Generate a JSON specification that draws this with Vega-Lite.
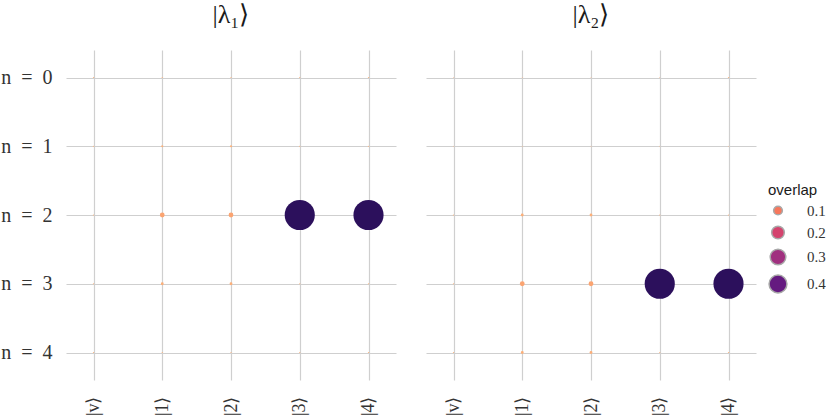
{
  "$schema": "https://vega.github.io/schema/vega-lite/v6.json",
  "background": "white",
  "padding": {"left": 0, "top": 2, "right": 0, "bottom": 0},
  "data": {"values": [
    {"state": "|λ₁⟩", "n": "n = 0", "ket": "|v⟩", "overlap": 0.002},
    {"state": "|λ₁⟩", "n": "n = 0", "ket": "|1⟩", "overlap": 0.002},
    {"state": "|λ₁⟩", "n": "n = 0", "ket": "|2⟩", "overlap": 0.002},
    {"state": "|λ₁⟩", "n": "n = 0", "ket": "|3⟩", "overlap": 0.002},
    {"state": "|λ₁⟩", "n": "n = 0", "ket": "|4⟩", "overlap": 0.002},
    {"state": "|λ₁⟩", "n": "n = 1", "ket": "|v⟩", "overlap": 0.002},
    {"state": "|λ₁⟩", "n": "n = 1", "ket": "|1⟩", "overlap": 0.006},
    {"state": "|λ₁⟩", "n": "n = 1", "ket": "|2⟩", "overlap": 0.006},
    {"state": "|λ₁⟩", "n": "n = 1", "ket": "|3⟩", "overlap": 0.002},
    {"state": "|λ₁⟩", "n": "n = 1", "ket": "|4⟩", "overlap": 0.002},
    {"state": "|λ₁⟩", "n": "n = 2", "ket": "|v⟩", "overlap": 0.002},
    {"state": "|λ₁⟩", "n": "n = 2", "ket": "|1⟩", "overlap": 0.03},
    {"state": "|λ₁⟩", "n": "n = 2", "ket": "|2⟩", "overlap": 0.03},
    {"state": "|λ₁⟩", "n": "n = 2", "ket": "|3⟩", "overlap": 0.49},
    {"state": "|λ₁⟩", "n": "n = 2", "ket": "|4⟩", "overlap": 0.49},
    {"state": "|λ₁⟩", "n": "n = 3", "ket": "|v⟩", "overlap": 0.002},
    {"state": "|λ₁⟩", "n": "n = 3", "ket": "|1⟩", "overlap": 0.01},
    {"state": "|λ₁⟩", "n": "n = 3", "ket": "|2⟩", "overlap": 0.01},
    {"state": "|λ₁⟩", "n": "n = 3", "ket": "|3⟩", "overlap": 0.002},
    {"state": "|λ₁⟩", "n": "n = 3", "ket": "|4⟩", "overlap": 0.002},
    {"state": "|λ₁⟩", "n": "n = 4", "ket": "|v⟩", "overlap": 0.002},
    {"state": "|λ₁⟩", "n": "n = 4", "ket": "|1⟩", "overlap": 0.002},
    {"state": "|λ₁⟩", "n": "n = 4", "ket": "|2⟩", "overlap": 0.002},
    {"state": "|λ₁⟩", "n": "n = 4", "ket": "|3⟩", "overlap": 0.002},
    {"state": "|λ₁⟩", "n": "n = 4", "ket": "|4⟩", "overlap": 0.002},
    {"state": "|λ₂⟩", "n": "n = 0", "ket": "|v⟩", "overlap": 0.001},
    {"state": "|λ₂⟩", "n": "n = 0", "ket": "|1⟩", "overlap": 0.001},
    {"state": "|λ₂⟩", "n": "n = 0", "ket": "|2⟩", "overlap": 0.001},
    {"state": "|λ₂⟩", "n": "n = 0", "ket": "|3⟩", "overlap": 0.001},
    {"state": "|λ₂⟩", "n": "n = 0", "ket": "|4⟩", "overlap": 0.002},
    {"state": "|λ₂⟩", "n": "n = 1", "ket": "|v⟩", "overlap": 0.001},
    {"state": "|λ₂⟩", "n": "n = 1", "ket": "|1⟩", "overlap": 0.001},
    {"state": "|λ₂⟩", "n": "n = 1", "ket": "|2⟩", "overlap": 0.001},
    {"state": "|λ₂⟩", "n": "n = 1", "ket": "|3⟩", "overlap": 0.001},
    {"state": "|λ₂⟩", "n": "n = 1", "ket": "|4⟩", "overlap": 0.001},
    {"state": "|λ₂⟩", "n": "n = 2", "ket": "|v⟩", "overlap": 0.002},
    {"state": "|λ₂⟩", "n": "n = 2", "ket": "|1⟩", "overlap": 0.01},
    {"state": "|λ₂⟩", "n": "n = 2", "ket": "|2⟩", "overlap": 0.01},
    {"state": "|λ₂⟩", "n": "n = 2", "ket": "|3⟩", "overlap": 0.002},
    {"state": "|λ₂⟩", "n": "n = 2", "ket": "|4⟩", "overlap": 0.002},
    {"state": "|λ₂⟩", "n": "n = 3", "ket": "|v⟩", "overlap": 0.002},
    {"state": "|λ₂⟩", "n": "n = 3", "ket": "|1⟩", "overlap": 0.03},
    {"state": "|λ₂⟩", "n": "n = 3", "ket": "|2⟩", "overlap": 0.03},
    {"state": "|λ₂⟩", "n": "n = 3", "ket": "|3⟩", "overlap": 0.49},
    {"state": "|λ₂⟩", "n": "n = 3", "ket": "|4⟩", "overlap": 0.49},
    {"state": "|λ₂⟩", "n": "n = 4", "ket": "|v⟩", "overlap": 0.002},
    {"state": "|λ₂⟩", "n": "n = 4", "ket": "|1⟩", "overlap": 0.01},
    {"state": "|λ₂⟩", "n": "n = 4", "ket": "|2⟩", "overlap": 0.01},
    {"state": "|λ₂⟩", "n": "n = 4", "ket": "|3⟩", "overlap": 0.002},
    {"state": "|λ₂⟩", "n": "n = 4", "ket": "|4⟩", "overlap": 0.002}
  ]},
  "facet": {
    "column": {
      "field": "state",
      "type": "nominal",
      "sort": ["|λ₁⟩", "|λ₂⟩"],
      "header": {"title": null, "labelFont": "Liberation Serif", "labelFontSize": 26, "labelColor": "#1a1a1a", "labelPadding": 22}
    }
  },
  "spacing": {"column": 30},
  "spec": {
    "width": 330,
    "height": 330,
    "mark": {"type": "circle", "opacity": 1, "stroke": null},
    "encoding": {
      "x": {
        "field": "ket", "type": "nominal",
        "sort": ["|v⟩", "|1⟩", "|2⟩", "|3⟩", "|4⟩"],
        "scale": {"type": "point", "padding": 0.4},
        "axis": {"title": null, "labelAngle": -90, "labelPadding": 16, "labelFontSize": 18}
      },
      "y": {
        "field": "n", "type": "nominal",
        "sort": ["n = 0", "n = 1", "n = 2", "n = 3", "n = 4"],
        "scale": {"type": "point", "padding": 0.4},
        "axis": {"title": null, "labelPadding": 14, "labelExpr": "replace(datum.label, / /g, '\u2002')"}
      },
      "size": {
        "field": "overlap", "type": "quantitative",
        "scale": {"type": "linear", "domain": [0, 0.1, 0.2, 0.3, 0.4, 0.49], "range": [0, 76, 160, 245, 320, 908]},
        "legend": {"type": "symbol", "title": "overlap", "values": [0.1, 0.2, 0.3, 0.4], "orient": "none", "legendX": 702, "legendY": 133}
      },
      "color": {
        "field": "overlap", "type": "quantitative",
        "scale": {"type": "linear", "domain": [0, 0.1, 0.2, 0.3, 0.4, 0.49], "range": ["#fdb57e", "#f7775c", "#d4436e", "#a0307f", "#651a80", "#2c105c"]},
        "legend": {"type": "symbol", "title": "overlap", "values": [0.1, 0.2, 0.3, 0.4], "orient": "none", "legendX": 702, "legendY": 133}
      }
    }
  },
  "config": {
    "view": {"stroke": null},
    "axis": {
      "grid": true, "gridColor": "#cfcfcf", "gridWidth": 1.2,
      "domain": false, "ticks": false,
      "labelFont": "Liberation Serif", "labelFontSize": 20, "labelColor": "#333333"
    },
    "legend": {
      "titleFont": "Liberation Sans", "titleFontSize": 15, "titleFontWeight": "normal", "titleColor": "#1a1a1a",
      "labelFont": "Liberation Serif", "labelFontSize": 15, "labelColor": "#333333",
      "symbolStrokeColor": "#a8a8a8", "symbolStrokeWidth": 1.5,
      "rowPadding": 4, "labelOffset": 19
    }
  }
}
